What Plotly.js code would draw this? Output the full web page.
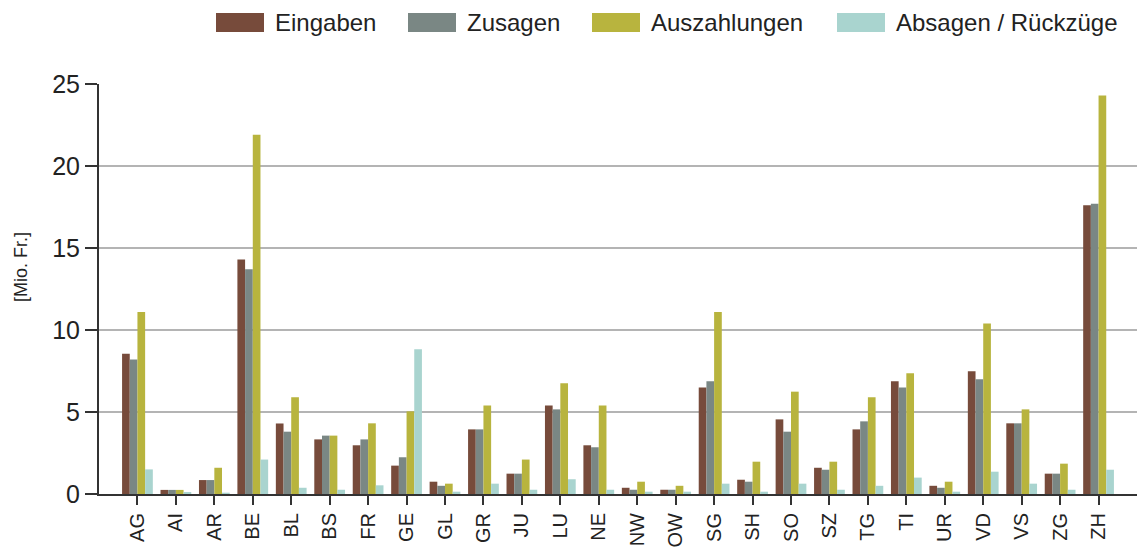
<!DOCTYPE html>
<html>
<head>
<meta charset="utf-8">
<script src="https://cdn.plot.ly/plotly-3.0.1.min.js"></script>
<style>html,body{margin:0;padding:0;background:#fff;}#chart{width:1137px;height:547px;}</style>
</head>
<body>
<div id="chart"></div>
<script>
const cantons = ["AG","AI","AR","BE","BL","BS","FR","GE","GL","GR","JU","LU","NE","NW","OW","SG","SH","SO","SZ","TG","TI","UR","VD","VS","ZG","ZH"];
const eingaben = [8.55,0.25,0.85,14.3,4.3,3.33,2.97,1.73,0.75,3.94,1.24,5.39,2.97,0.38,0.26,6.5,0.87,4.55,1.6,3.94,6.87,0.5,7.48,4.31,1.24,17.6];
const zusagen = [8.2,0.25,0.85,13.7,3.8,3.56,3.33,2.24,0.5,3.94,1.24,5.16,2.85,0.26,0.26,6.87,0.75,3.8,1.48,4.43,6.5,0.38,6.99,4.31,1.24,17.7];
const auszahlungen = [11.1,0.25,1.6,21.9,5.9,3.56,4.31,5.04,0.63,5.39,2.1,6.75,5.39,0.75,0.5,11.1,1.97,6.24,1.97,5.9,7.36,0.75,10.4,5.16,1.85,24.3];
const absagen = [1.5,0.12,0.08,2.1,0.38,0.26,0.53,8.82,0.14,0.63,0.26,0.9,0.26,0.14,0.14,0.63,0.14,0.63,0.26,0.5,1.0,0.14,1.36,0.63,0.26,1.48];
const seriesNames = ["Eingaben","Zusagen","Auszahlungen","Absagen / Rückzüge"];
const seriesColors = ["#774B3B","#7A8784","#B8B43E","#A9D4CF"];
const yTicks = [0,5,10,15,20,25];
const yTitle = "[Mio. Fr.]";

const W = 1137, H = 547;
const M = {l:99, r:0, t:84, b:53};
const pw = W - M.l - M.r, ph = H - M.t - M.b;
const px2x = p => (p - M.l) / pw;
const py2y = p => (H - M.b - p) / ph;

const values = [eingaben, zusagen, auszahlungen, absagen];
const traces = values.map((v,i)=>({
  type:"bar", x:cantons, y:v, name:seriesNames[i],
  marker:{color:seriesColors[i], line:{width:0}}
}));
const font = "Liberation Sans, Arial, sans-serif";

// legend drawn as layout decoration (large swatches like the original)
const legendSwatchLeft = [216, 408, 592, 837];
const swatchW = 48, swatchTop = 13, swatchBot = 32, textGap = 9;
const shapes = [], annotations = [];
seriesNames.forEach((n,i)=>{
  const x0 = legendSwatchLeft[i];
  shapes.push({type:"rect", xref:"paper", yref:"paper",
    x0:px2x(x0), x1:px2x(x0+swatchW), y0:py2y(swatchBot), y1:py2y(swatchTop),
    fillcolor:seriesColors[i], line:{width:0}});
  annotations.push({xref:"paper", yref:"paper", x:px2x(x0+swatchW+textGap), y:py2y((swatchTop+swatchBot)/2),
    xanchor:"left", yanchor:"middle", text:n, showarrow:false,
    font:{family:font, size:24, color:"#222"}});
});
// y-axis title, placed as in the original (slightly above plot centre)
annotations.push({xref:"paper", yref:"paper", x:px2x(21), y:py2y(267),
  xanchor:"center", yanchor:"middle", textangle:-90, text:yTitle, showarrow:false,
  font:{family:font, size:18, color:"#222"}});

const layout = {
  width:W, height:H,
  margin:{l:M.l, r:M.r, t:M.t, b:M.b, autoexpand:false},
  paper_bgcolor:"#fff", plot_bgcolor:"#fff",
  barmode:"group", bargap:0.2, bargroupgap:0,
  font:{family:font, color:"#222", size:20},
  xaxis:{
    type:"category", range:[-1,26], showgrid:false,
    showline:true, linecolor:"#333", linewidth:2,
    ticks:"outside", ticklen:9, tickwidth:2, tickcolor:"#333",
    tickangle:-90, tickfont:{family:font, size:20, color:"#222"},
    fixedrange:true
  },
  yaxis:{
    range:[0,25], tickvals:yTicks, showgrid:true, gridcolor:"#B4B4B4", gridwidth:2,
    showline:true, linecolor:"#333", linewidth:2,
    ticks:"outside", ticklen:12, tickwidth:2, tickcolor:"#333",
    tickfont:{family:font, size:25, color:"#222"},
    zeroline:false
  },
  showlegend:false,
  shapes:shapes, annotations:annotations
};
Plotly.newPlot("chart", traces, layout, {staticPlot:true});
</script>
</body>
</html>
